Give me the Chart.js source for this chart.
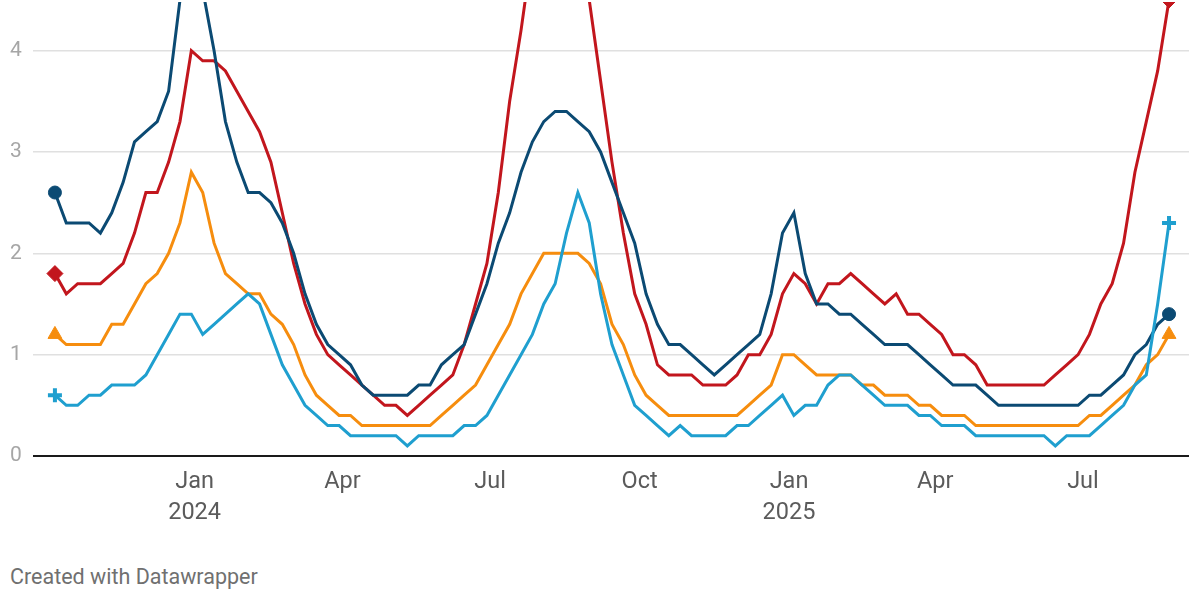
<!DOCTYPE html>
<html>
<head>
<meta charset="utf-8">
<script src="https://cdn.jsdelivr.net/npm/chart.js@4"></script>
<style>
  html, body { margin: 0; padding: 0; background: #fff; }
  #wrap { position: relative; width: 1200px; height: 600px; overflow: hidden; }
  #chartBox { position: absolute; left: 0; top: -9px; width: 1200px; height: 554px; }
  #credit { position: absolute; left: 10px; top: 564px; font: 21.5px Roboto, sans-serif; color: #707070; }
</style>
</head>
<body>
<div id="wrap">
  <div id="chartBox"><canvas id="chart"></canvas></div>
  <div id="credit">Created with Datawrapper</div>
</div>
<script>
// weekly values, first week starting 2023-10-07
const firstWeek = '2023-10-07';

const darkBlue = [
  2.6, 2.3, 2.3, 2.3, 2.2, 2.4, 2.7, 3.1, 3.2, 3.3,
  3.6, 4.5, 4.9, 4.6, 4.0, 3.3, 2.9, 2.6, 2.6, 2.5,
  2.3, 2.0, 1.6, 1.3, 1.1, 1.0, 0.9, 0.7, 0.6, 0.6,
  0.6, 0.6, 0.7, 0.7, 0.9, 1.0, 1.1, 1.4, 1.7, 2.1,
  2.4, 2.8, 3.1, 3.3, 3.4, 3.4, 3.3, 3.2, 3.0, 2.7,
  2.4, 2.1, 1.6, 1.3, 1.1, 1.1, 1.0, 0.9, 0.8, 0.9,
  1.0, 1.1, 1.2, 1.6, 2.2, 2.4, 1.8, 1.5, 1.5, 1.4,
  1.4, 1.3, 1.2, 1.1, 1.1, 1.1, 1.0, 0.9, 0.8, 0.7,
  0.7, 0.7, 0.6, 0.5, 0.5, 0.5, 0.5, 0.5, 0.5, 0.5,
  0.5, 0.6, 0.6, 0.7, 0.8, 1.0, 1.1, 1.3, 1.4
];

const red = [
  1.8, 1.6, 1.7, 1.7, 1.7, 1.8, 1.9, 2.2, 2.6, 2.6,
  2.9, 3.3, 4.0, 3.9, 3.9, 3.8, 3.6, 3.4, 3.2, 2.9,
  2.4, 1.9, 1.5, 1.2, 1.0, 0.9, 0.8, 0.7, 0.6, 0.5,
  0.5, 0.4, 0.5, 0.6, 0.7, 0.8, 1.1, 1.5, 1.9, 2.6,
  3.5, 4.2, 5.0, 5.6, 6.0, 5.9, 5.3, 4.5, 3.7, 2.9,
  2.2, 1.6, 1.3, 0.9, 0.8, 0.8, 0.8, 0.7, 0.7, 0.7,
  0.8, 1.0, 1.0, 1.2, 1.6, 1.8, 1.7, 1.5, 1.7, 1.7,
  1.8, 1.7, 1.6, 1.5, 1.6, 1.4, 1.4, 1.3, 1.2, 1.0,
  1.0, 0.9, 0.7, 0.7, 0.7, 0.7, 0.7, 0.7, 0.8, 0.9,
  1.0, 1.2, 1.5, 1.7, 2.1, 2.8, 3.3, 3.8, 4.5
];

const orange = [
  1.2, 1.1, 1.1, 1.1, 1.1, 1.3, 1.3, 1.5, 1.7, 1.8,
  2.0, 2.3, 2.8, 2.6, 2.1, 1.8, 1.7, 1.6, 1.6, 1.4,
  1.3, 1.1, 0.8, 0.6, 0.5, 0.4, 0.4, 0.3, 0.3, 0.3,
  0.3, 0.3, 0.3, 0.3, 0.4, 0.5, 0.6, 0.7, 0.9, 1.1,
  1.3, 1.6, 1.8, 2.0, 2.0, 2.0, 2.0, 1.9, 1.7, 1.3,
  1.1, 0.8, 0.6, 0.5, 0.4, 0.4, 0.4, 0.4, 0.4, 0.4,
  0.4, 0.5, 0.6, 0.7, 1.0, 1.0, 0.9, 0.8, 0.8, 0.8,
  0.8, 0.7, 0.7, 0.6, 0.6, 0.6, 0.5, 0.5, 0.4, 0.4,
  0.4, 0.3, 0.3, 0.3, 0.3, 0.3, 0.3, 0.3, 0.3, 0.3,
  0.3, 0.4, 0.4, 0.5, 0.6, 0.7, 0.9, 1.0, 1.2
];

const lightBlue = [
  0.6, 0.5, 0.5, 0.6, 0.6, 0.7, 0.7, 0.7, 0.8, 1.0,
  1.2, 1.4, 1.4, 1.2, 1.3, 1.4, 1.5, 1.6, 1.5, 1.2,
  0.9, 0.7, 0.5, 0.4, 0.3, 0.3, 0.2, 0.2, 0.2, 0.2,
  0.2, 0.1, 0.2, 0.2, 0.2, 0.2, 0.3, 0.3, 0.4, 0.6,
  0.8, 1.0, 1.2, 1.5, 1.7, 2.2, 2.6, 2.3, 1.6, 1.1,
  0.8, 0.5, 0.4, 0.3, 0.2, 0.3, 0.2, 0.2, 0.2, 0.2,
  0.3, 0.3, 0.4, 0.5, 0.6, 0.4, 0.5, 0.5, 0.7, 0.8,
  0.8, 0.7, 0.6, 0.5, 0.5, 0.5, 0.4, 0.4, 0.3, 0.3,
  0.3, 0.2, 0.2, 0.2, 0.2, 0.2, 0.2, 0.2, 0.1, 0.2,
  0.2, 0.2, 0.3, 0.4, 0.5, 0.7, 0.8, 1.5, 2.3
];

const tickDates = ['2024-01-01', '2024-04-01', '2024-07-01', '2024-10-01', '2025-01-01', '2025-04-01', '2025-07-01'];
const tickLabels = [['Jan', '2024'], 'Apr', 'Jul', 'Oct', ['Jan', '2025'], 'Apr', 'Jul'];
const yTicks = [0, 1, 2, 3, 4];

const DAY = 86400000;
const startMs = Date.parse(firstWeek);
const dayOf = (iso) => Math.round((Date.parse(iso) - startMs) / DAY);
const tickDays = tickDates.map(dayOf);

const toPoints = (values) => values.map((v, i) => ({ x: i * 7, y: v }));
const lastIndex = darkBlue.length - 1;

function makeSeries(label, values, color, style, radius, markerWidth) {
  return {
    label,
    data: toPoints(values),
    borderColor: color,
    backgroundColor: color,
    borderWidth: 3,
    tension: 0,
    pointStyle: style,
    pointRadius: (c) => (c.dataIndex === 0 || c.dataIndex === lastIndex ? radius : 0),
    pointHoverRadius: (c) => (c.dataIndex === 0 || c.dataIndex === lastIndex ? radius : 0),
    pointBackgroundColor: color,
    pointBorderColor: color,
    pointBorderWidth: markerWidth,
  };
}

new Chart(document.getElementById('chart'), {
  type: 'line',
  data: {
    datasets: [
      makeSeries('light blue', lightBlue, '#1f9fcf', 'cross', 7, 4),
      makeSeries('dark blue', darkBlue, '#0b4a73', 'circle', 6.5, 1),
      makeSeries('orange', orange, '#f68d0e', 'triangle', 8, 1),
      makeSeries('red', red, '#c2161d', 'rectRot', 8, 1),
    ],
  },
  options: {
    responsive: true,
    maintainAspectRatio: false,
    animation: false,
    layout: { padding: { left: 10, right: 10, top: 0, bottom: 0 } },
    plugins: {
      legend: { display: false },
      tooltip: { enabled: false },
    },
    scales: {
      x: {
        type: 'linear',
        min: -13.5,
        max: 698.3,
        grid: { display: false, drawTicks: false },
        border: { display: false },
        afterBuildTicks: (scale) => {
          scale.ticks = tickDays.map((d) => ({ value: d }));
        },
        afterFit: (scale) => {
          scale.height = 89;
          scale.paddingLeft = 0;
          scale.paddingRight = 0;
        },
        ticks: {
          autoSkip: false,
          maxRotation: 0,
          padding: 11,
          color: '#5b5b5b',
          font: { family: 'Roboto', size: 23.5, lineHeight: 1.3 },
          callback: (value, index) => tickLabels[index],
        },
      },
      y: {
        min: 0,
        max: 4.48,
        grid: {
          drawTicks: false,
          color: (c) => (c.tick && c.tick.value === 0 ? '#1a1a1a' : '#e0e0e0'),
          lineWidth: (c) => (c.tick && c.tick.value === 0 ? 2 : 1.5),
        },
        border: { display: false },
        afterBuildTicks: (scale) => {
          scale.ticks = yTicks.map((v) => ({ value: v }));
        },
        afterFit: (scale) => {
          scale.width = 23;
          scale.paddingTop = 0;
          scale.paddingBottom = 0;
        },
        ticks: {
          crossAlign: 'far',
          padding: 0,
          color: '#a6a6a6',
          font: { family: 'Roboto', size: 21 },
        },
      },
    },
  },
});
</script>
</body>
</html>
